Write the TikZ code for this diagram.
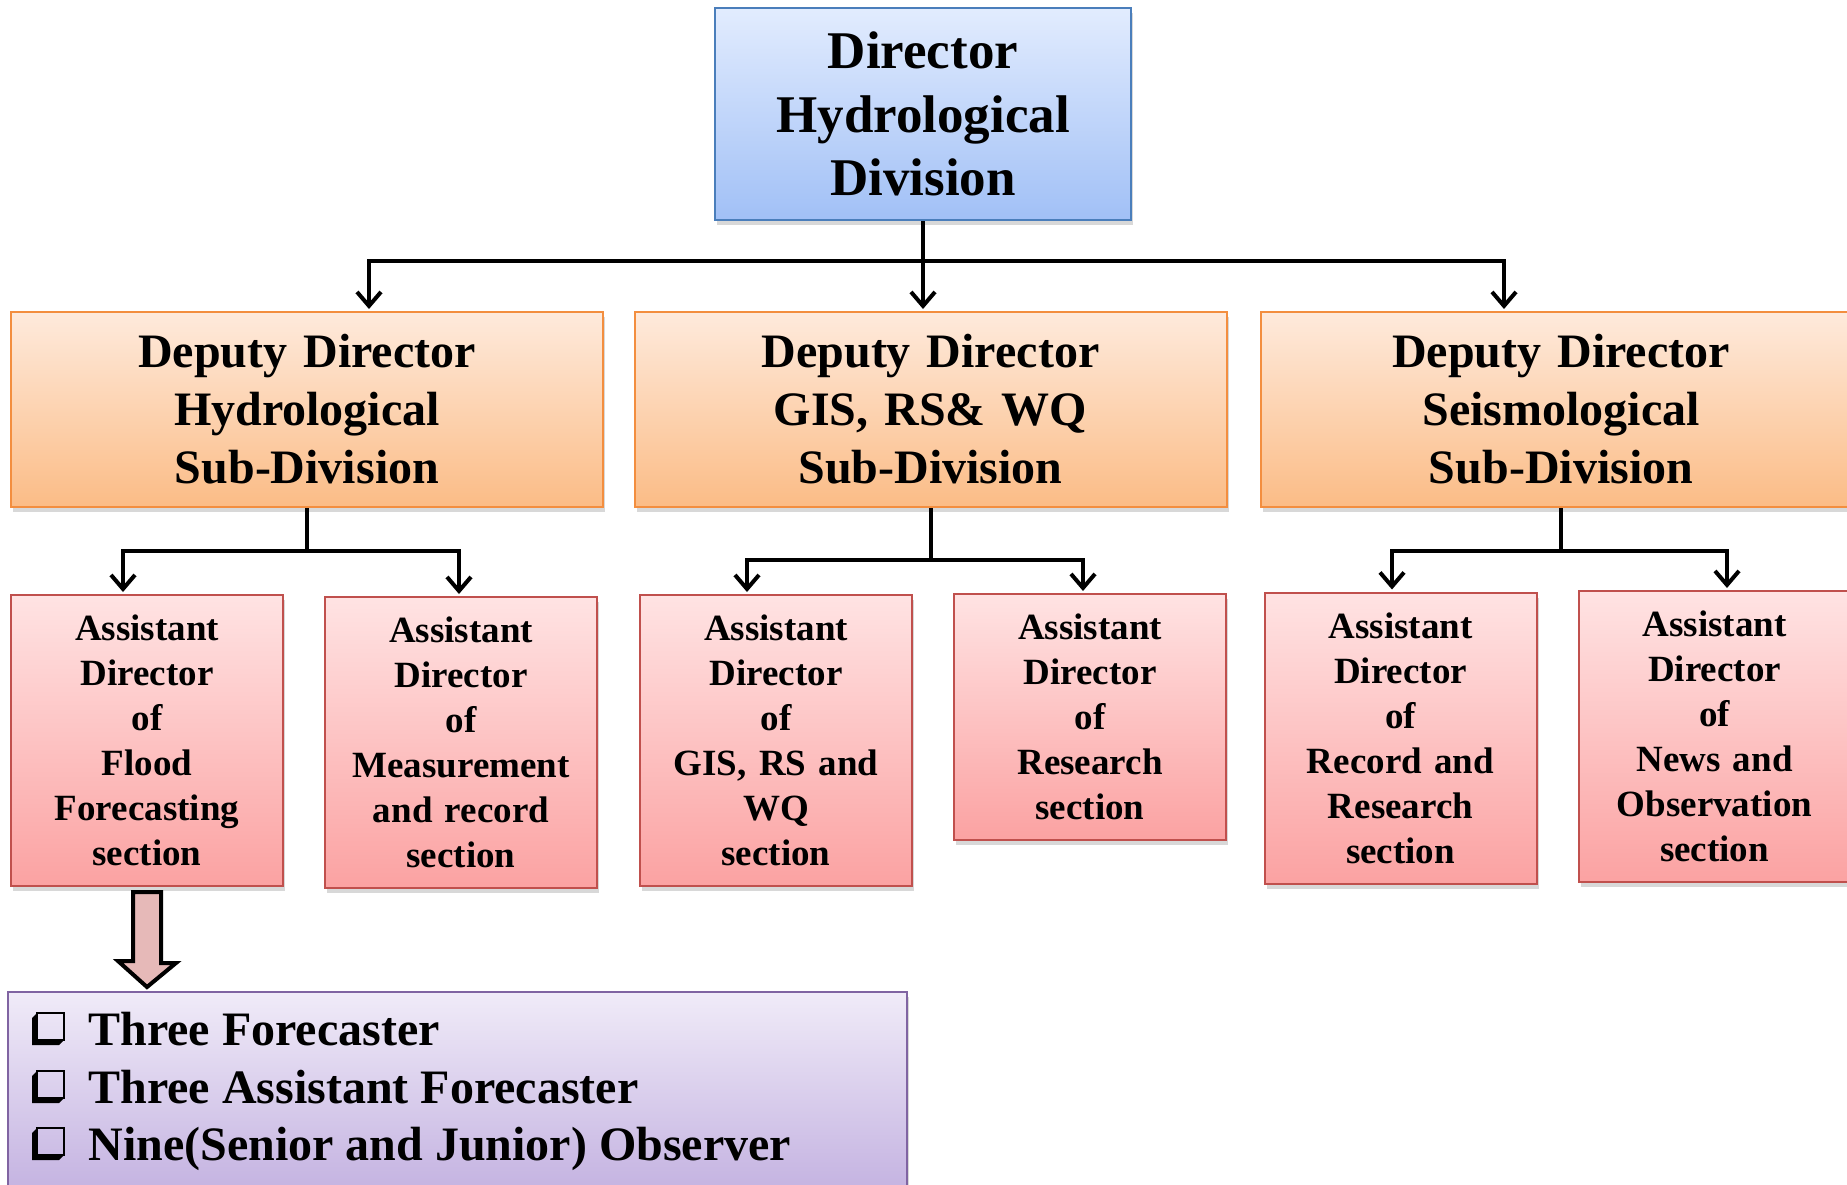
\documentclass[tikz,border=0pt]{standalone}
\usepackage{fontspec}
\setmainfont{Liberation Serif}
\usetikzlibrary{arrows.meta,shadows,calc}
\definecolor{dirT}{HTML}{E2ECFE}
\definecolor{dirB}{HTML}{A1C0F6}
\definecolor{dirL}{HTML}{4A7EBB}
\definecolor{depT}{HTML}{FEEADC}
\definecolor{depB}{HTML}{FBBC86}
\definecolor{depL}{HTML}{F38E3F}
\definecolor{asT}{HTML}{FFE3E3}
\definecolor{asB}{HTML}{FBA2A2}
\definecolor{asL}{HTML}{C0504D}
\definecolor{liT}{HTML}{F0EBF8}
\definecolor{liB}{HTML}{C2B0E0}
\definecolor{liL}{HTML}{8064A2}
\definecolor{arF}{HTML}{E6B9B8}
\begin{document}
\begin{tikzpicture}[x=0.5pt,y=-0.5pt,
  box/.style={draw, line width=1pt, inner sep=0pt, align=center,
    drop shadow={shadow xshift=1pt,shadow yshift=-2.5pt,opacity=0.3}},
  dirbox/.style={box, draw=dirL, top color=dirT, bottom color=dirB,
    minimum width=208pt, minimum height=106pt, text width=200pt,
    font=\fontsize{26.5}{31.8}\selectfont\bfseries},
  depbox/.style={box, draw=depL, top color=depT, bottom color=depB,
    minimum width=296pt, minimum height=97.5pt, text width=290pt,
    font=\fontsize{24}{29}\selectfont\bfseries},
  asbox/.style={box, draw=asL, top color=asT, bottom color=asB,
    minimum width=136pt, minimum height=145.5pt, text width=132pt,
    font=\fontsize{18.5}{22.5}\selectfont\bfseries},
  listbox/.style={box, draw=liL, top color=liT, bottom color=liB,
    minimum width=449.5pt, minimum height=104pt},
  listtxt/.style={anchor=base west, inner sep=0pt,
    font=\fontsize{24}{29}\selectfont\bfseries},
  conn/.style={line width=2pt},
  arr/.style={conn, shorten >=1pt, -{Straight Barb[length=7pt,width=12pt]}},
  blockarr/.style={line width=2pt, fill=arF, line join=miter},
  chk/.pic={
    \fill[black] (0,-27) -- (0,0) -- (27,0) -- (32,-5) -- (5,-5) -- (5,-32) -- cycle;
    \draw[line width=1.1pt] (5,-32) rectangle (32,-5);
  }
]
\path[use as bounding box, fill=white] (0,0) rectangle (1847,1184);

% boxes
\node[dirbox] (dir) at (923,114) {Director\\Hydrological\\Division};
\node[depbox] (dep1) at (307,409.5) {Deputy Director\\Hydrological\\Sub-Division};
\node[depbox] (dep2) at (930.5,409.5) {Deputy Director\\GIS, RS\& WQ\\Sub-Division};
\node[depbox, minimum width=300pt] (dep3) at (1561,409.5) {Deputy Director\\Seismological\\Sub-Division};

\node[asbox] (a1) at (147,740.5) {Assistant\\Director\\of\\Flood\\Forecasting\\section};
\node[asbox] (a2) at (461,742.5) {Assistant\\Director\\of\\Measurement\\and record\\section};
\node[asbox] (a3) at (776,740.5) {Assistant\\Director\\of\\GIS, RS and\\WQ\\section};
\node[asbox, minimum height=123pt] (a4) at (1090,717) {Assistant\\Director\\of\\Research\\section};
\node[asbox] (a5) at (1400.5,738) {Assistant\\Director\\of\\Record and\\Research\\section};
\node[asbox] (a6) at (1714.5,736.5) {Assistant\\Director\\of\\News and\\Observation\\section};

\node[listbox] (list) at (457.5,1096) {};
\node[listtxt] (l1) at (88,1045) {Three Forecaster};
\node[listtxt] (l2) at (88,1103) {Three Assistant Forecaster};
\node[listtxt] (l3) at (88,1160) {Nine(Senior and Junior) Observer};
\pic at (32,1045) {chk};
\pic at (32,1103) {chk};
\pic at (32,1160) {chk};

% top connectors
\coordinate (j0) at (923,261);
\coordinate (x1) at (369,0);
\coordinate (x3) at (1504,0);
\draw[conn] (dir.south) -- (j0);
\draw[arr] (j0) -| (dep1.north -| x1);
\draw[arr] (j0) -- (dep2.north -| j0);
\draw[arr] (j0) -| (dep3.north -| x3);

% sub connectors
\coordinate (j1) at (307,551);
\coordinate (xa1) at (123,0);
\coordinate (xa2) at (459,0);
\draw[conn] (dep1.south) -- (j1);
\draw[arr] (j1) -| (a1.north -| xa1);
\draw[arr] (j1) -| (a2.north -| xa2);

\coordinate (j2) at (931,560);
\coordinate (xa3) at (747,0);
\coordinate (xa4) at (1083,0);
\draw[conn] (dep2.south -| j2) -- (j2);
\draw[arr] (j2) -| (a3.north -| xa3);
\draw[arr] (j2) -| (a4.north -| xa4);

\coordinate (y3) at (0,551);
\coordinate (j3) at (dep3.south |- y3);
\coordinate (xa5) at (1392,0);
\coordinate (xa6) at (1727,0);
\draw[conn] (dep3.south) -- (j3);
\draw[arr] (j3) -| (a5.north -| xa5);
\draw[arr] (j3) -| (a6.north -| xa6);

% block arrow
\draw[blockarr] ([shift={(-14,5)}]a1.south) -- ++(28,0) -- ++(0,71) -- ++(15,0)
  -- ([yshift=2pt]list.north -| a1.south) -- ++(-29,-26) -- ++(15,0) -- cycle;
\end{tikzpicture}
\end{document}
